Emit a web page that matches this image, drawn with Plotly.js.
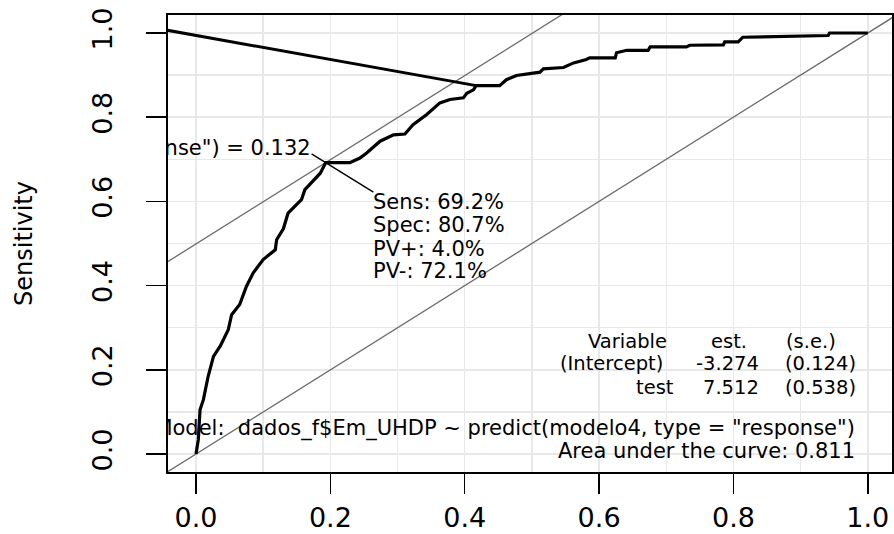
<!DOCTYPE html>
<html>
<head>
<meta charset="utf-8">
<script src="https://cdn.plot.ly/plotly-3.0.1.min.js"></script>
<style>
  html, body { margin: 0; padding: 0; background: #ffffff; }
  #chart { width: 894px; height: 534px; }
</style>
</head>
<body>
<div id="chart"></div>
<script>
// ---- ROC curve (1 - specificity, sensitivity) ----
const fpr  = [0, 0.0034, 0.006, 0.011, 0.018, 0.026, 0.036, 0.048, 0.053, 0.065, 0.075, 0.085, 0.100, 0.118, 0.120, 0.130,
              0.137, 0.157, 0.162, 0.185, 0.193, 0.229, 0.244, 0.254, 0.274, 0.294, 0.311, 0.323, 0.343, 0.363, 0.378,
              0.398, 0.403, 0.413, 0.417, 0.452, 0.462, 0.477, 0.512, 0.517, 0.547, 0.562, 0.581, 0.586, 0.624, 0.626,
              0.641, 0.673, 0.676, 0.730, 0.735, 0.785, 0.787, 0.807, 0.814, 0.874, 0.941, 0.943, 1.0];
const sens = [0, 0.034, 0.105, 0.129, 0.184, 0.232, 0.256, 0.295, 0.331, 0.355, 0.398, 0.430, 0.462, 0.485, 0.509, 0.535,
              0.572, 0.604, 0.628, 0.667, 0.692, 0.692, 0.703, 0.715, 0.743, 0.758, 0.760, 0.782, 0.806, 0.834, 0.842,
              0.846, 0.857, 0.865, 0.875, 0.875, 0.889, 0.899, 0.907, 0.915, 0.918, 0.929, 0.937, 0.941, 0.941, 0.953,
              0.959, 0.959, 0.967, 0.967, 0.971, 0.972, 0.979, 0.979, 0.990, 0.992, 0.994, 1.0, 1.0];

// thick segment joining the top-left to the curve
const topLineX = [-0.06, 0.417];
const topLineY = [1.0115, 0.875];

// reference diagonal and tangent through optimal cut-point
const diagX = [-0.1, 1.1];
const diagY = [-0.1, 1.1];
const tangentX = [-0.1, 0.6];
const tangentY = [0.399, 1.099];

// pointer line through the optimal point
const pointerX = [0.172, 0.264];
const pointerY = [0.713, 0.622];

// ---- texts ----
const cutLabel   = 'predict(modelo4, type = "response") = 0.132';
const statLabels = ['Sens: 69.2%', 'Spec: 80.7%', 'PV+: 4.0%', 'PV-: 72.1%'];
const tableHeader = ['Variable', 'est.', '(s.e.)'];
const tableRow1   = ['(Intercept)', '-3.274', '(0.124)'];
const tableRow2   = ['test', '7.512', '(0.538)'];
const modelLabel = 'Model:  dados_f$Em_UHDP ~ predict(modelo4, type = "response")';
const aucLabel   = 'Area under the curve: 0.811';
const yTitle = 'Sensitivity';

const FONT = 'DejaVu Sans';
const txtFont = {family: FONT, size: 21, color: '#000000'};
const tblFont = {family: FONT, size: 19.5, color: '#000000'};

const traces = [
  {x: diagX, y: diagY, mode: 'lines', line: {color: '#6a6a6a', width: 1.3}, hoverinfo: 'skip'},
  {x: tangentX, y: tangentY, mode: 'lines', line: {color: '#6a6a6a', width: 1.3}, hoverinfo: 'skip'},
  {x: topLineX, y: topLineY, mode: 'lines', line: {color: '#000000', width: 3}, hoverinfo: 'skip'},
  {x: fpr, y: sens, mode: 'lines', line: {color: '#000000', width: 3.2}, hoverinfo: 'skip'},
  {x: pointerX, y: pointerY, mode: 'lines', line: {color: '#000000', width: 1.4}, hoverinfo: 'skip'},
  // texts that are clipped by the plot frame
  {x: [0.1707, 0.9807], y: [0.7228, 0.0577], text: [cutLabel, modelLabel], mode: 'text',
   textposition: 'middle left', textfont: txtFont, cliponaxis: true, hoverinfo: 'skip'}
];

const annotations = [];
const statY = [0.5995, 0.5447, 0.4877, 0.4354];
statLabels.forEach((t, i) => annotations.push({
  x: 0.2634, y: statY[i], xref: 'x', yref: 'y', text: t, showarrow: false,
  xanchor: 'left', yanchor: 'middle', font: txtFont, borderpad: 0, borderwidth: 0
}));
const tableRows = [tableHeader, tableRow1, tableRow2];
const rowY = [0.2680, 0.2140, 0.1590];
const colRight = [[0.7004, 0.8195, 0.9524], [0.6954, 0.8382, 0.9821], [0.7118, 0.8382, 0.9821]];
tableRows.forEach((row, r) => row.forEach((cell, c) => annotations.push({
  x: colRight[r][c], y: rowY[r], xref: 'x', yref: 'y', text: cell, showarrow: false,
  xanchor: 'right', yanchor: 'middle', font: tblFont, borderpad: 0, borderwidth: 0
})));
annotations.push({
  x: 0.9807, y: 0.0078, xref: 'x', yref: 'y', text: aucLabel, showarrow: false,
  xanchor: 'right', yanchor: 'middle', font: txtFont, borderpad: 0, borderwidth: 0
});

const axisCommon = {
  showline: true, mirror: true, linecolor: '#000000', linewidth: 2,
  ticks: 'outside', ticklen: 20, tickwidth: 1.5, tickcolor: '#000000',
  tick0: 0, dtick: 0.2, tickformat: '.1f',
  showgrid: true, gridcolor: '#e8e8e8', gridwidth: 1.5,
  minor: {dtick: 0.1, showgrid: true, gridcolor: '#e8e8e8', gridwidth: 1.5, ticks: ''},
  zeroline: false, autorange: false, automargin: false,
  tickfont: {family: FONT, size: 27, color: '#000000'}
};

const layout = {
  width: 894, height: 534,
  margin: {l: 168, r: 2, t: 15, b: 62},
  paper_bgcolor: '#ffffff', plot_bgcolor: '#ffffff',
  showlegend: false,
  font: {family: FONT, color: '#000000'},
  xaxis: Object.assign({}, axisCommon, {range: [-0.0417, 1.036], ticklabelstandoff: 1}),
  yaxis: Object.assign({}, axisCommon, {
    range: [-0.0428, 1.0428], tickangle: -90, ticklabelstandoff: 23,
    title: {text: yTitle, font: {family: FONT, size: 24, color: '#000000'}, standoff: 48}
  }),
  annotations: annotations
};

Plotly.newPlot('chart', traces, layout, {displayModeBar: false, staticPlot: true});
</script>
</body>
</html>
